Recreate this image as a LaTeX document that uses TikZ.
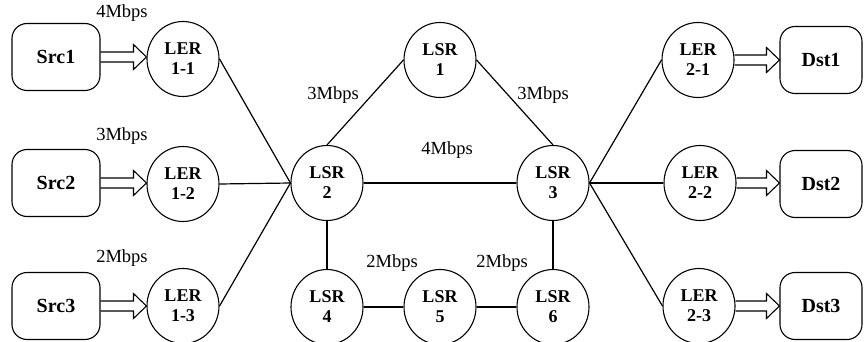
\documentclass[tikz,border=0pt]{standalone}
\usepackage{fontspec}
\setmainfont{Liberation Serif}
\usetikzlibrary{calc,shapes.geometric}
\tikzset{
  router/.style={draw,line width=1.1pt,ellipse,minimum width=72pt,minimum height=75pt,inner sep=0pt,align=center,font=\bfseries\fontsize{18}{20}\selectfont},
  endbox/.style={draw,line width=1.1pt,rounded corners=15pt,minimum width=88pt,minimum height=67pt,inner sep=0pt,font=\bfseries\fontsize{20}{22}\selectfont},
  link/.style={line width=1.2pt},
  rate/.style={font=\fontsize{18.5}{20}\selectfont,inner sep=0pt},
  fatline/.style={line width=1.1pt,line join=miter},
  fat/.style={to path={
    let \p1=(\tikztostart), \p2=(\tikztotarget) in
    (\x1,\y1+5pt) -- (\x2-13pt,\y1+5pt) -- (\x2-13pt,\y1+12.5pt) -- (\x2,\y1)
    -- (\x2-13pt,\y1-12.5pt) -- (\x2-13pt,\y1-5pt) -- (\x1,\y1-5pt)}}
}
\begin{document}
\begin{tikzpicture}[x=1pt,y=-1pt]
\useasboundingbox (0,0) rectangle (864,342);
% sources
\node[endbox] (src1) at (56,57) {Src1};
\node[endbox] (src2) at (56,183) {Src2};
\node[endbox] (src3) at (56,306) {Src3};
% ingress LERs
\node[router] (ler11) at (183,59) {LER\\1-1};
\node[router] (ler12) at (183,184) {LER\\1-2};
\node[router] (ler13) at (183,306) {LER\\1-3};
% LSRs
\node[router] (lsr1) at (440,60) {LSR\\1};
\node[router] (lsr2) at (327,183) {LSR\\2};
\node[router] (lsr3) at (553,183) {LSR\\3};
\node[router] (lsr4) at (327,307) {LSR\\4};
\node[router] (lsr5) at (440,307) {LSR\\5};
\node[router] (lsr6) at (553,307) {LSR\\6};
% egress LERs
\node[router] (ler21) at (698,60) {LER\\2-1};
\node[router] (ler22) at (700,183) {LER\\2-2};
\node[router] (ler23) at (699,306) {LER\\2-3};
% destinations
\node[endbox,minimum width=82pt] (dst1) at (821,60) {Dst1};
\node[endbox,minimum width=82pt] (dst2) at (821,184) {Dst2};
\node[endbox,minimum width=82pt] (dst3) at (821,306) {Dst3};
% fat arrows
\draw[fatline] (src1.east) to[fat] (ler11.west);
\draw[fatline] (src2.east) to[fat] (ler12.west);
\draw[fatline] (src3.east) to[fat] (ler13.west);
\draw[fatline] (ler21.east) to[fat] (dst1.west);
\draw[fatline] (ler22.east) to[fat] (dst2.west);
\draw[fatline] (ler23.east) to[fat] (dst3.west);
% links
\draw[link] (ler11.east) -- (lsr2.west);
\draw[link] (ler12.east) -- (lsr2.west);
\draw[link] (ler13.east) -- (lsr2.west);
\draw[link] (lsr2.north) -- (lsr1.west);
\draw[link] (lsr1.east) -- (lsr3.north);
\draw[link] (lsr2.east) -- (lsr3.west);
\draw[link] (lsr2.south) -- (lsr4.north);
\draw[link] (lsr3.south) -- (lsr6.north);
\draw[link] (lsr4.east) -- (lsr5.west);
\draw[link] (lsr5.east) -- (lsr6.west);
\draw[link] (lsr3.east) -- (ler21.west);
\draw[link] (lsr3.east) -- (ler22.west);
\draw[link] (lsr3.east) -- (ler23.west);
% rates
\node[rate] (r1) at (122,13) {4Mbps};
\node[rate] (r2) at (122,136) {3Mbps};
\node[rate] (r3) at (122,258) {2Mbps};
\node[rate] (r4) at (333,95) {3Mbps};
\node[rate] (r5) at (543,95) {3Mbps};
\node[rate] (r6) at (447,150) {4Mbps};
\node[rate] (r7) at (392,263) {2Mbps};
\node[rate] (r8) at (502,263) {2Mbps};
\end{tikzpicture}
\end{document}
